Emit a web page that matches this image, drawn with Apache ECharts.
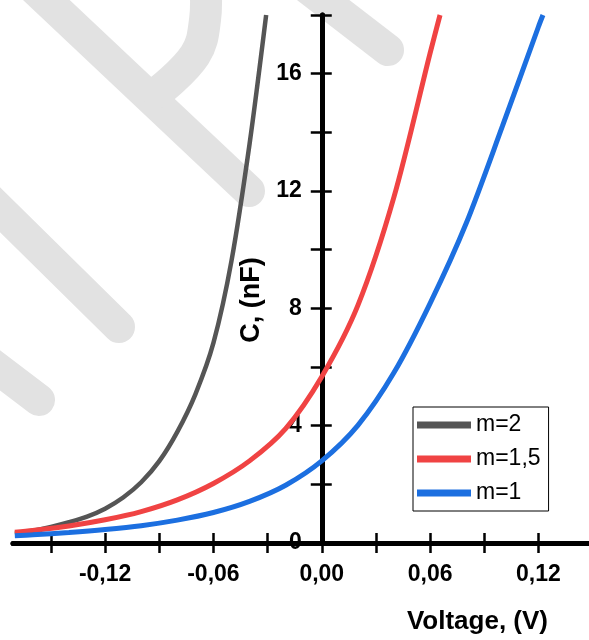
<!DOCTYPE html>
<html><head><meta charset="utf-8">
<script src="https://cdn.jsdelivr.net/npm/echarts@6/dist/echarts.min.js"></script>
<style>html,body{margin:0;padding:0;background:#fff}#c{width:589px;height:640px}</style>
</head><body><div id="c"></div>
<script>
const seriesNames = ['m=2', 'm=1,5', 'm=1'];
const grayV = [-0.17, -0.16, -0.15, -0.14, -0.13, -0.12, -0.11, -0.10, -0.09, -0.08, -0.07, -0.06, -0.05, -0.04, -0.0308];
const grayC = [0.32, 0.42, 0.55, 0.71, 0.9, 1.17, 1.55, 2.07, 2.79, 3.79, 5.07, 6.82, 9.62, 13.6, 18];
const redV = [-0.17, -0.16, -0.14, -0.12, -0.10, -0.08, -0.06, -0.04, -0.02, 0, 0.02, 0.04, 0.06, 0.0655];
const redC = [0.37, 0.43, 0.58, 0.79, 1.07, 1.47, 2.03, 2.8, 3.9, 5.67, 8.1, 11.8, 16.7, 18];
const blueV = [-0.17, -0.16, -0.14, -0.12, -0.10, -0.08, -0.06, -0.04, -0.02, 0, 0.02, 0.04, 0.06, 0.08, 0.10, 0.12, 0.1225];
const blueC = [0.25, 0.28, 0.36, 0.46, 0.59, 0.78, 1.04, 1.42, 1.97, 2.8, 4.01, 5.81, 8.17, 10.9, 14.2, 17.6, 18];
const xTickValues = [-0.15, -0.12, -0.09, -0.06, -0.03, 0, 0.03, 0.06, 0.09, 0.12];
const xLabelValues = [-0.12, -0.06, 0, 0.06, 0.12];
const yLabelValues = [0, 4, 8, 12, 16];

const FONT = "'Liberation Sans', Arial, sans-serif";
const pairs = (xs, ys) => xs.map((x, i) => [x, ys[i]]);
const colors = ['#555555', '#F04343', '#1C6FE0'];
const XMIN = -0.171, XMAX = 0.148, YMIN = 0, YMAX = 18;
const GRID_LEFT = 13, GRID_RIGHT = 0, GRID_TOP = 15, GRID_BOTTOM = 97;
const plotW = 589 - GRID_LEFT - GRID_RIGHT;
// shift the y axis so it sits at x = 0
const yOffset = -plotW * (0 - XMIN) / (XMAX - XMIN);

const wm = (pts, smooth) => ({
  type: 'polyline', z: -10, silent: true,
  shape: { points: pts, smooth: smooth || 0 },
  style: { stroke: '#e2e2e2', lineWidth: 32, lineCap: 'round', lineJoin: 'round', fill: null }
});

const axisLineStyle = { color: '#000', width: 5 };
const tickStyle = { color: '#000', width: 2.5 };

const chart = echarts.init(document.getElementById('c'));
chart.setOption({
  animation: false,
  backgroundColor: '#fff',
  graphic: [
    wm([[23, -22], [249, 191]]),
    wm([[158, 92], [195, 55], [205, 20], [205, -20]], 0.4),
    wm([[305, -14], [388, 50]]),
    wm([[-20, 190], [119, 327]]),
    wm([[-20, 355], [39, 400]])
  ],
  grid: { left: GRID_LEFT, right: GRID_RIGHT, top: GRID_TOP, bottom: GRID_BOTTOM, containLabel: false, outerBoundsMode: 'none' },
  legend: {
    data: seriesNames, orient: 'vertical', left: 413, top: 407,
    icon: 'rect', itemWidth: 54, itemHeight: 7, itemGap: 10,
    padding: [6, 8, 6, 4], borderColor: '#000', borderWidth: 1, backgroundColor: '#fff',
    textStyle: { fontSize: 23, color: '#000', fontFamily: FONT, lineHeight: 24 }
  },
  xAxis: [{
    type: 'value', min: XMIN, max: XMAX, position: 'bottom',
    axisLine: { onZero: false, lineStyle: axisLineStyle },
    axisTick: { show: true, inside: false, length: 10, customValues: xTickValues, lineStyle: tickStyle },
    axisLabel: { customValues: xLabelValues, formatter: v => v.toFixed(2).replace('.', ','), margin: 20,
      fontSize: 23, fontWeight: 'bold', color: '#000', fontFamily: FONT },
    splitLine: { show: false },
    name: 'Voltage, (V)', nameLocation: 'end', nameGap: 0,
    nameTextStyle: { fontSize: 26, fontWeight: 'bold', color: '#000', fontFamily: FONT,
      align: 'right', verticalAlign: 'top', padding: [66, 41, 0, 0] }
  }, {
    type: 'value', min: XMIN, max: XMAX, position: 'bottom',
    axisLine: { onZero: false, lineStyle: axisLineStyle },
    axisTick: { show: true, inside: true, length: 10, customValues: xTickValues, lineStyle: tickStyle },
    axisLabel: { show: false }, splitLine: { show: false }
  }],
  yAxis: [{
    type: 'value', min: YMIN, max: YMAX, interval: 2, position: 'left', offset: yOffset,
    axisLine: { onZero: false, lineStyle: axisLineStyle },
    axisTick: { show: true, inside: false, length: 11, lineStyle: tickStyle },
    axisLabel: { customValues: yLabelValues, margin: 20, fontSize: 23, fontWeight: 'bold', color: '#000', fontFamily: FONT },
    splitLine: { show: false },
    name: 'C, (nF)', nameLocation: 'middle', nameGap: 52,
    nameTextStyle: { fontSize: 27, fontWeight: 'bold', color: '#000', fontFamily: FONT, padding: [0, 42, 0, 0] }
  }, {
    type: 'value', min: YMIN, max: YMAX, interval: 2, position: 'left', offset: yOffset,
    axisLine: { onZero: false, lineStyle: axisLineStyle },
    axisTick: { show: true, inside: true, length: 10, lineStyle: tickStyle },
    axisLabel: { show: false }, splitLine: { show: false }
  }],
  series: [
    { name: seriesNames[0], type: 'line', data: pairs(grayV, grayC), color: colors[0], showSymbol: false, smooth: 0.3, lineStyle: { width: 4.5, color: colors[0] } },
    { name: seriesNames[1], type: 'line', data: pairs(redV, redC), color: colors[1], showSymbol: false, smooth: 0.3, lineStyle: { width: 5, color: colors[1] } },
    { name: seriesNames[2], type: 'line', data: pairs(blueV, blueC), color: colors[2], showSymbol: false, smooth: 0.3, lineStyle: { width: 5, color: colors[2] } }
  ]
});
</script></body></html>
